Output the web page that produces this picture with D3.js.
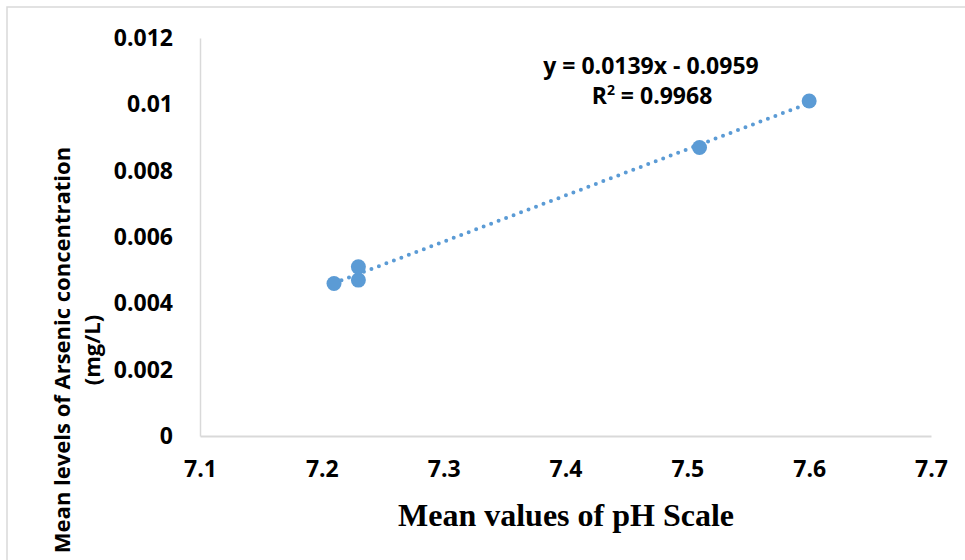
<!DOCTYPE html>
<html>
<head>
<meta charset="utf-8">
<script src="https://cdn.jsdelivr.net/npm/d3@7"></script>
<style>
  body { margin: 0; background: #fff; }
  svg { display: block; }
  .tick text { font-family: "Open Sans", sans-serif; font-weight: bold; fill: #000; }
</style>
</head>
<body>
<svg id="chart" width="965" height="560"></svg>
<script>
// data
var phValues = [7.21, 7.23, 7.23, 7.51, 7.6];
var arsenicValues = [0.0046, 0.0047, 0.0051, 0.0087, 0.0101];
var xTicks = [7.1, 7.2, 7.3, 7.4, 7.5, 7.6, 7.7];
var yTicks = [0, 0.002, 0.004, 0.006, 0.008, 0.01, 0.012];
var equationText = "y = 0.0139x - 0.0959";
var rSquaredValue = "0.9968";

var svg = d3.select("#chart");
var blue = "#5b9bd5";

// outer chart border (right/bottom fall outside the window)
svg.append("rect")
    .attr("x", 7).attr("y", 7)
    .attr("width", 970).attr("height", 570)
    .attr("fill", "none")
    .attr("stroke", "#d9d9d9")
    .attr("stroke-width", 1.5);

var x = d3.scaleLinear().domain([7.1, 7.7]).range([200, 931]);
var y = d3.scaleLinear().domain([0, 0.012]).range([436, 38]);

var xAxis = svg.append("g")
    .attr("transform", "translate(0," + y(0) + ")")
    .call(d3.axisBottom(x).tickValues(xTicks).tickSize(0).tickPadding(25)
        .tickFormat(function(d){ return d3.format(".1f")(d); }));
xAxis.select(".domain").attr("stroke", "#d9d9d9").attr("stroke-width", 2);
xAxis.selectAll("text").attr("font-size", 23);

var yAxis = svg.append("g")
    .attr("transform", "translate(" + x(7.1) + ",0)")
    .call(d3.axisLeft(y).tickValues(yTicks).tickSize(0).tickPadding(27)
        .tickFormat(function(d){ return d === 0 ? "0" : String(+d.toFixed(3)); }));
yAxis.select(".domain").attr("stroke", "#d9d9d9").attr("stroke-width", 1.5);
yAxis.selectAll("text").attr("font-size", 23);

// linear trend line (least squares on the points)
var n = phValues.length;
var mx = d3.mean(phValues), my = d3.mean(arsenicValues);
var sxy = 0, sxx = 0;
for (var i = 0; i < n; i++) {
    sxy += (phValues[i] - mx) * (arsenicValues[i] - my);
    sxx += (phValues[i] - mx) * (phValues[i] - mx);
}
var slope = sxy / sxx;
var intercept = my - slope * mx;
var x0 = d3.min(phValues), x1 = d3.max(phValues);

svg.append("line")
    .attr("x1", x(x0)).attr("y1", y(slope * x0 + intercept))
    .attr("x2", x(x1)).attr("y2", y(slope * x1 + intercept))
    .attr("stroke", blue)
    .attr("stroke-width", 4)
    .attr("stroke-linecap", "round")
    .attr("stroke-dasharray", "0,8");

svg.selectAll("circle.pt")
    .data(phValues)
    .enter().append("circle")
    .attr("class", "pt")
    .attr("cx", function(d){ return x(d); })
    .attr("cy", function(d, i){ return y(arsenicValues[i]); })
    .attr("r", 7.5)
    .attr("fill", blue);

// trendline label
svg.append("text")
    .attr("x", 651).attr("y", 74)
    .attr("text-anchor", "middle")
    .attr("font-family", "Open Sans, sans-serif")
    .attr("font-weight", "bold")
    .attr("font-size", 23)
    .text(equationText);
var r2 = svg.append("text")
    .attr("x", 652).attr("y", 104)
    .attr("text-anchor", "middle")
    .attr("font-family", "Open Sans, sans-serif")
    .attr("font-weight", "bold")
    .attr("font-size", 23);
r2.append("tspan").text("R");
r2.append("tspan").attr("font-size", 14).attr("dy", -9).text("2");
r2.append("tspan").attr("dy", 9).text(" = " + rSquaredValue);

// axis titles
svg.append("text")
    .attr("x", 566).attr("y", 526)
    .attr("text-anchor", "middle")
    .attr("font-family", "Liberation Serif, Times New Roman, serif")
    .attr("font-weight", "bold")
    .attr("font-size", 32)
    .text("Mean values of pH Scale");

var yTitle = svg.append("text")
    .attr("transform", "translate(70,350) rotate(-90)")
    .attr("text-anchor", "middle")
    .attr("font-family", "Open Sans, sans-serif")
    .attr("font-weight", "bold")
    .attr("font-size", 22);
yTitle.append("tspan").attr("x", 0).attr("y", 0).text("Mean levels of Arsenic concentration");
yTitle.append("tspan").attr("x", 0).attr("y", 30).text("(mg/L)");
</script>
</body>
</html>
